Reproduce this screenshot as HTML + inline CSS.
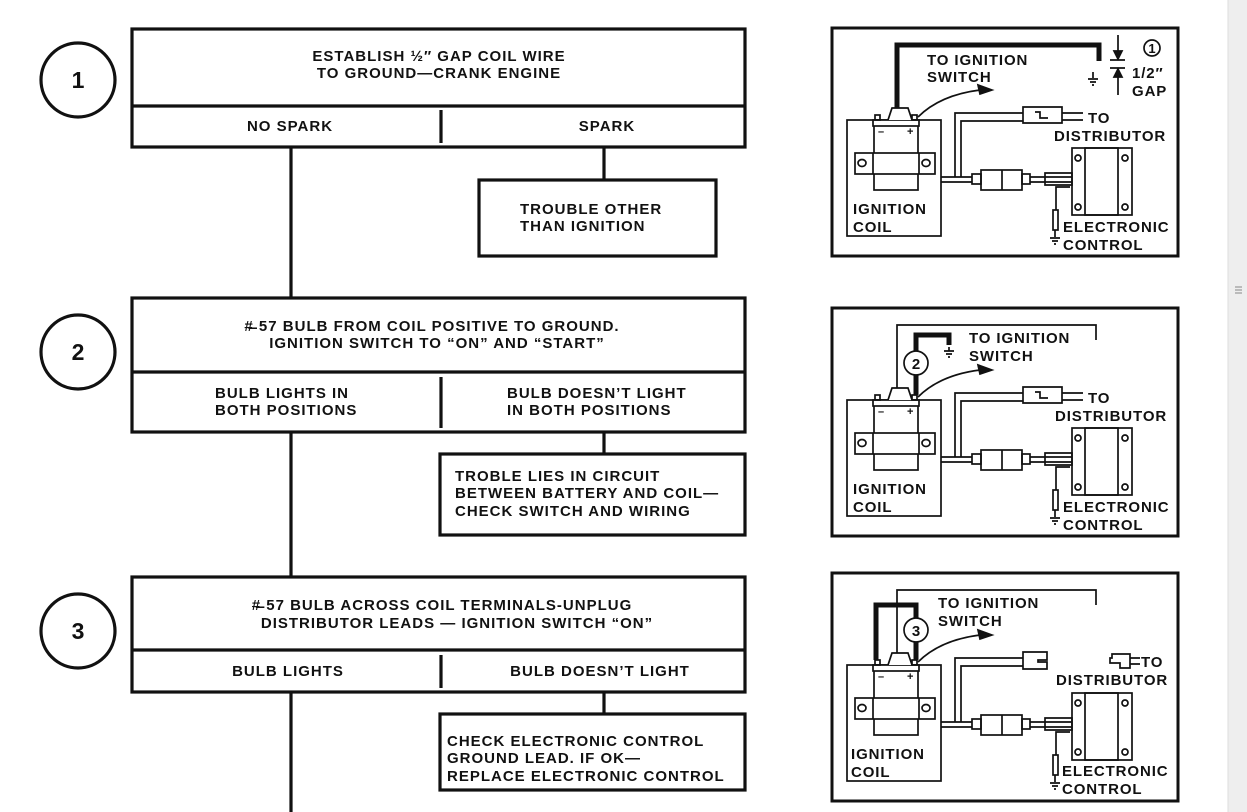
<!DOCTYPE html>
<html><head><meta charset="utf-8"><style>
html,body{margin:0;padding:0;background:#fff;}
svg{display:block;}
text{font-family:"Liberation Sans",sans-serif;fill:#111;font-weight:bold;}
</style></head><body>
<svg width="1247" height="812" viewBox="0 0 1247 812" xmlns="http://www.w3.org/2000/svg">
<rect width="1247" height="812" fill="#fff"/>
<rect x="1228" y="0" width="19" height="812" fill="#eeeeee"/>
<line x1="1228" y1="0" x2="1228" y2="812" stroke="#ddd"/>
<path d="M1235 287h7M1235 290h7M1235 293h7" stroke="#888"/>

<g stroke="#111" stroke-width="3.2" fill="none">
<circle cx="78" cy="80" r="37"/><circle cx="78" cy="352" r="37"/><circle cx="78" cy="631" r="37"/>
<rect x="132" y="29" width="613" height="118"/><line x1="132" y1="106" x2="745" y2="106"/>
<line x1="441" y1="110" x2="441" y2="143"/>
<rect x="479" y="180" width="237" height="76"/>
<rect x="132" y="298" width="613" height="134"/><line x1="132" y1="372" x2="745" y2="372"/>
<line x1="441" y1="377" x2="441" y2="428"/>
<rect x="440" y="454" width="305" height="81"/>
<rect x="132" y="577" width="613" height="115"/><line x1="132" y1="650" x2="745" y2="650"/>
<line x1="441" y1="655" x2="441" y2="688"/>
<rect x="440" y="714" width="305" height="76"/>
<line x1="291" y1="147" x2="291" y2="298"/><line x1="291" y1="432" x2="291" y2="577"/><line x1="291" y1="692" x2="291" y2="812"/>
<line x1="604" y1="147" x2="604" y2="180"/><line x1="604" y1="432" x2="604" y2="454"/><line x1="604" y1="692" x2="604" y2="714"/>
</g>
<g font-size="23" text-anchor="middle">
<text x="78" y="88">1</text><text x="78" y="360">2</text><text x="78" y="639">3</text>
</g>
<g font-size="15" text-anchor="middle" letter-spacing="1">
<text x="439" y="61">ESTABLISH ½″ GAP COIL WIRE</text><text x="439" y="78">TO GROUND—CRANK ENGINE</text>
<text x="290" y="131">NO SPARK</text><text x="607" y="131">SPARK</text>
<text x="432" y="331">#̶ 57 BULB FROM COIL POSITIVE TO GROUND.</text><text x="437" y="348">IGNITION SWITCH TO  “ON” AND “START”</text>
<text x="442" y="610">#̶ 57 BULB ACROSS COIL TERMINALS-UNPLUG</text><text x="457" y="628">DISTRIBUTOR LEADS — IGNITION SWITCH “ON”</text>
<text x="288" y="676">BULB LIGHTS</text><text x="600" y="676">BULB DOESN’T LIGHT</text>
</g>
<g font-size="15" letter-spacing="1">
<text x="520" y="214">TROUBLE OTHER</text><text x="520" y="231">THAN IGNITION</text>
<text x="215" y="398">BULB LIGHTS IN</text><text x="215" y="415">BOTH POSITIONS</text>
<text x="507" y="398">BULB DOESN’T LIGHT</text><text x="507" y="415">IN BOTH POSITIONS</text>
<text x="455" y="481">TROBLE LIES IN CIRCUIT</text><text x="455" y="498">BETWEEN BATTERY AND COIL—</text><text x="455" y="516">CHECK SWITCH AND WIRING</text>
<text x="447" y="746">CHECK ELECTRONIC CONTROL</text><text x="447" y="763">GROUND LEAD. IF OK—</text><text x="447" y="781">REPLACE ELECTRONIC CONTROL</text>
</g>

<defs>
<g id="base" stroke="#111" fill="none" stroke-width="1.7">
<rect x="2" y="3" width="346" height="228" stroke-width="3"/>
<rect x="17" y="95" width="94" height="116"/>
<rect x="44" y="100" width="44" height="65"/>
<rect x="43" y="95" width="46" height="6" fill="#fff"/>
<path d="M58 95 L62 83 L78 83 L82 95" fill="#fff"/>
<rect x="45" y="90" width="5" height="5"/><rect x="82" y="90" width="5" height="5"/>
<rect x="25" y="128" width="80" height="21" fill="#fff"/>
<line x1="43" y1="128" x2="43" y2="149"/><line x1="89" y1="128" x2="89" y2="149"/>
<ellipse cx="32" cy="138" rx="4" ry="3.5"/><ellipse cx="96" cy="138" rx="4" ry="3.5"/>
<line x1="111" y1="152" x2="142" y2="152"/><line x1="111" y1="157" x2="142" y2="157"/>
<path d="M125 152 V88 H193"/><path d="M131 152 V96 H193"/>
<rect x="142" y="149" width="9" height="10"/><rect x="151" y="145" width="41" height="20"/>
<line x1="172" y1="145" x2="172" y2="165"/><rect x="192" y="149" width="8" height="10"/>
<path d="M200 152 H242 M200 157 H242 M215 148 H242 V160 H215 Z"/>
<rect x="242" y="123" width="60" height="67"/><rect x="255" y="123" width="33" height="67"/>
<circle cx="248" cy="133" r="3"/><circle cx="295" cy="133" r="3"/><circle cx="248" cy="182" r="3"/><circle cx="295" cy="182" r="3"/>
<path d="M240 162 H226 V185"/><rect x="223" y="185" width="5" height="20"/>
<path d="M225 205 V212 M220 213 H230 M222 216 H228 M224 219 H226"/>
<path d="M88 92 Q110 70 150 65" />
<path d="M162 65 L148 60 L150 69 Z" fill="#111"/>
</g>
</defs>

<!-- panel 1 -->
<g transform="translate(830,25)">
<use href="#base"/>
<g stroke="#111" fill="none" stroke-width="1.7">
<path d="M193 82 H232 V98 H193 Z M205 87 H210 V93 H218"/><path d="M232 88 H253 M232 95 H253"/>
<path d="M67 83 V20 H269 V36" stroke-width="5"/>
<path d="M263 47 V53 M258 54 H268 M260 57 H266 M262 60 H264"/>
<path d="M280 35 H295 M280 43 H295 M288 10 V33 M288 45 V70"/>
<path d="M284 26 L288 34 L292 26 Z M284 52 L288 44 L292 52 Z" fill="#111"/>
<circle cx="322" cy="23" r="8"/>
</g>
<text x="322" y="28" font-size="13" text-anchor="middle">1</text>
<g font-size="15" letter-spacing="0.9">
<text x="97" y="40">TO IGNITION</text><text x="97" y="57">SWITCH</text>
<text x="302" y="53">1/2″</text><text x="302" y="71">GAP</text>
<text x="258" y="98">TO</text><text x="224" y="116">DISTRIBUTOR</text>
<text x="23" y="189">IGNITION</text><text x="23" y="207">COIL</text>
<text x="233" y="207">ELECTRONIC</text><text x="233" y="225">CONTROL</text>
</g>
<text x="48" y="110" font-size="11">–</text><text x="77" y="110" font-size="11">+</text>
</g>

<!-- panel 2 -->
<g transform="translate(830,305)">
<use href="#base"/>
<g stroke="#111" fill="none" stroke-width="1.7">
<path d="M193 82 H232 V98 H193 Z M205 87 H210 V93 H218"/><path d="M232 88 H253 M232 95 H253"/>
<path d="M67 83 V20 H266 V35"/>
<path d="M86 90 V30 H119 V40" stroke-width="5"/>
<path d="M119 42 V46 M114 46 H124 M116 49 H122 M118 52 H120"/>
<circle cx="86" cy="58" r="12" fill="#fff"/>
</g>
<text x="86" y="64" font-size="15" text-anchor="middle">2</text>
<g font-size="15" letter-spacing="0.9">
<text x="139" y="38">TO IGNITION</text><text x="139" y="56">SWITCH</text>
<text x="258" y="98">TO</text><text x="225" y="116">DISTRIBUTOR</text>
<text x="23" y="189">IGNITION</text><text x="23" y="207">COIL</text>
<text x="233" y="207">ELECTRONIC</text><text x="233" y="225">CONTROL</text>
</g>
<text x="48" y="110" font-size="11">–</text><text x="77" y="110" font-size="11">+</text>
</g>

<!-- panel 3 -->
<g transform="translate(830,570)">
<use href="#base"/>
<g stroke="#111" fill="none" stroke-width="1.7">
<path d="M193 82 H217 V90 H208 V92 H217 V99 H193 Z"/>
<path d="M67 83 V20 H266 V35"/>
<path d="M46 90 V35 H86 V90" stroke-width="5"/>
<circle cx="86" cy="60" r="12" fill="#fff"/>
<path d="M282 84 H300 V98 H290 V93 H280 V88 H282 Z M300 88 H310 M300 94 H310"/>
</g>
<text x="86" y="66" font-size="15" text-anchor="middle">3</text>
<g font-size="15" letter-spacing="0.9">
<text x="108" y="38">TO IGNITION</text><text x="108" y="56">SWITCH</text>
<text x="311" y="97">TO</text><text x="226" y="115">DISTRIBUTOR</text>
<text x="21" y="189">IGNITION</text><text x="21" y="207">COIL</text>
<text x="232" y="206">ELECTRONIC</text><text x="232" y="224">CONTROL</text>
</g>
<text x="48" y="110" font-size="11">–</text><text x="77" y="110" font-size="11">+</text>
</g>
</svg>
</body></html>
